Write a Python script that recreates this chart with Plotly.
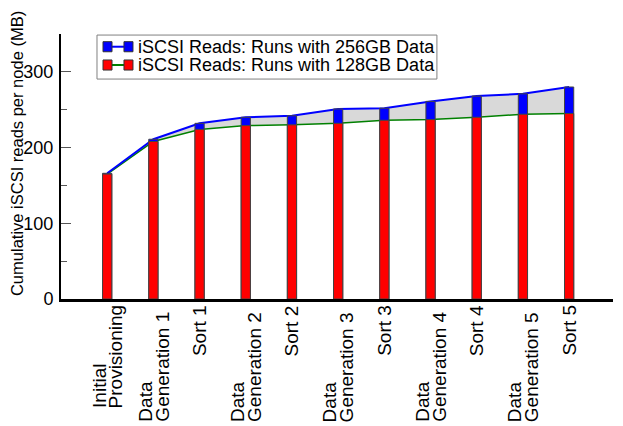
import plotly.graph_objects as go

# phases of the experiment, one bar pair per phase
phases = ["Initial<br>Provisioning", "Data<br>Generation 1", "Sort 1",
          "Data<br>Generation 2", "Sort 2", "Data<br>Generation 3", "Sort 3",
          "Data<br>Generation 4", "Sort 4", "Data<br>Generation 5", "Sort 5"]

# cumulative iSCSI reads per node (MB)
reads_256gb = [166, 211, 232, 240, 242, 251, 252, 261, 268, 271, 280]
reads_128gb = [165, 208, 224, 229, 230, 232, 236, 237, 240, 244, 245]

legend_256 = "iSCSI Reads: Runs with 256GB Data"
legend_128 = "iSCSI Reads: Runs with 128GB Data"
y_title = "Cumulative iSCSI reads per node (MB)"

FONT = "Liberation Sans, Arial, sans-serif"
xs = list(range(len(phases)))

fig = go.Figure()

# lines + grey band between them, on the base axes
fig.add_trace(go.Scatter(x=xs, y=reads_128gb, mode="lines",
                         line=dict(color="#008000", width=1.5),
                         showlegend=False, hoverinfo="skip"))
fig.add_trace(go.Scatter(x=xs, y=reads_256gb, mode="lines",
                         line=dict(color="#0000ff", width=2),
                         fill="tonexty", fillcolor="#d9d9d9",
                         showlegend=False, hoverinfo="skip"))

# bars on an overlaying pair of axes so they are drawn above the band
fig.add_trace(go.Bar(x=xs, y=reads_256gb, width=0.2, xaxis="x2", yaxis="y2",
                     marker=dict(color="#0000ff", line=dict(color="#444444", width=1)),
                     name=legend_256, showlegend=False))
fig.add_trace(go.Bar(x=xs, y=reads_128gb, width=0.2, xaxis="x2", yaxis="y2",
                     marker=dict(color="#ff0000", line=dict(color="#444444", width=1)),
                     name=legend_128, showlegend=False))

# legend box drawn like the original key: square - line - square, then text
fig.add_shape(type="rect", xref="paper", yref="paper", x0=0.0652, x1=0.681,
              y0=0.830, y1=0.996, line=dict(color="#808080", width=1),
              fillcolor="white", layer="above")
for yc, name, fill, line in [(0.952, legend_256, "#0000ff", "#0000ff"),
                             (0.883, legend_128, "#ff0000", "#008000")]:
    fig.add_shape(type="line", xref="paper", yref="paper", x0=0.09, x1=0.116,
                  y0=yc, y1=yc, line=dict(color=line, width=2), layer="above")
    for x0 in (0.0761, 0.1141):
        fig.add_shape(type="rect", xref="paper", yref="paper", x0=x0, x1=x0 + 0.0163,
                      y0=yc - 0.019, y1=yc + 0.019, fillcolor=fill,
                      line=dict(color="#333333", width=1), layer="above")
    fig.add_annotation(x=0.137, y=yc, xref="paper", yref="paper", text=name,
                       showarrow=False, xanchor="left", yanchor="middle",
                       borderpad=0, font=dict(family=FONT, size=18, color="black"))

# y axis title
fig.add_annotation(x=-0.0797, y=0.547, xref="paper", yref="paper", text=y_title,
                   textangle=-90, showarrow=False, xanchor="center", yanchor="middle",
                   font=dict(family=FONT, size=16.5, color="black"))

# rotated category labels under the axis, one annotation per text line
for i, lab in enumerate(phases):
    lines = lab.split("<br>")
    for j, txt in enumerate(lines):
        if len(lines) == 1:
            anchor, shift = "top", -5
        else:
            anchor, shift = "bottom", (-124 if lab.startswith("Data") else -110)
        fig.add_annotation(x=i, y=0, xref="x", yref="paper", text=txt,
                           textangle=-90, showarrow=False, borderpad=0,
                           xanchor="center", yanchor=anchor, yshift=shift,
                           xshift=(j - (len(lines) - 1) / 2) * 16.5,
                           font=dict(family=FONT, size=19, color="black"))

XR = [-1, 10.95]
YR = [0, 350]

# page body has an 8px margin, so the figure is 8px smaller than the window
fig.update_layout(
    width=615, height=418,
    margin=dict(l=53, r=10, t=26, b=127, autoexpand=False),
    barmode="overlay",
    plot_bgcolor="white", paper_bgcolor="white",
    font=dict(family=FONT, size=18, color="black"),
    showlegend=False,
    xaxis=dict(range=XR, showline=True, linecolor="black", linewidth=2.5,
               automargin=False, showticklabels=False, ticks="",
               showgrid=False, zeroline=False),
    yaxis=dict(range=YR, showline=True, linecolor="black", linewidth=2,
               tickvals=[0, 100, 200, 300], ticks="inside", ticklen=10,
               tickcolor="#555555", tickwidth=1, ticklabelstandoff=2,
               automargin=False,
               minor=dict(tickvals=[50, 150, 250], ticks="inside", ticklen=6,
                          tickcolor="#555555", tickwidth=1),
               showgrid=False, zeroline=False, tickfont=dict(size=18)),
    xaxis2=dict(overlaying="x", range=XR, visible=False),
    yaxis2=dict(overlaying="y", range=YR, visible=False),
)

fig.write_html("out.html")
